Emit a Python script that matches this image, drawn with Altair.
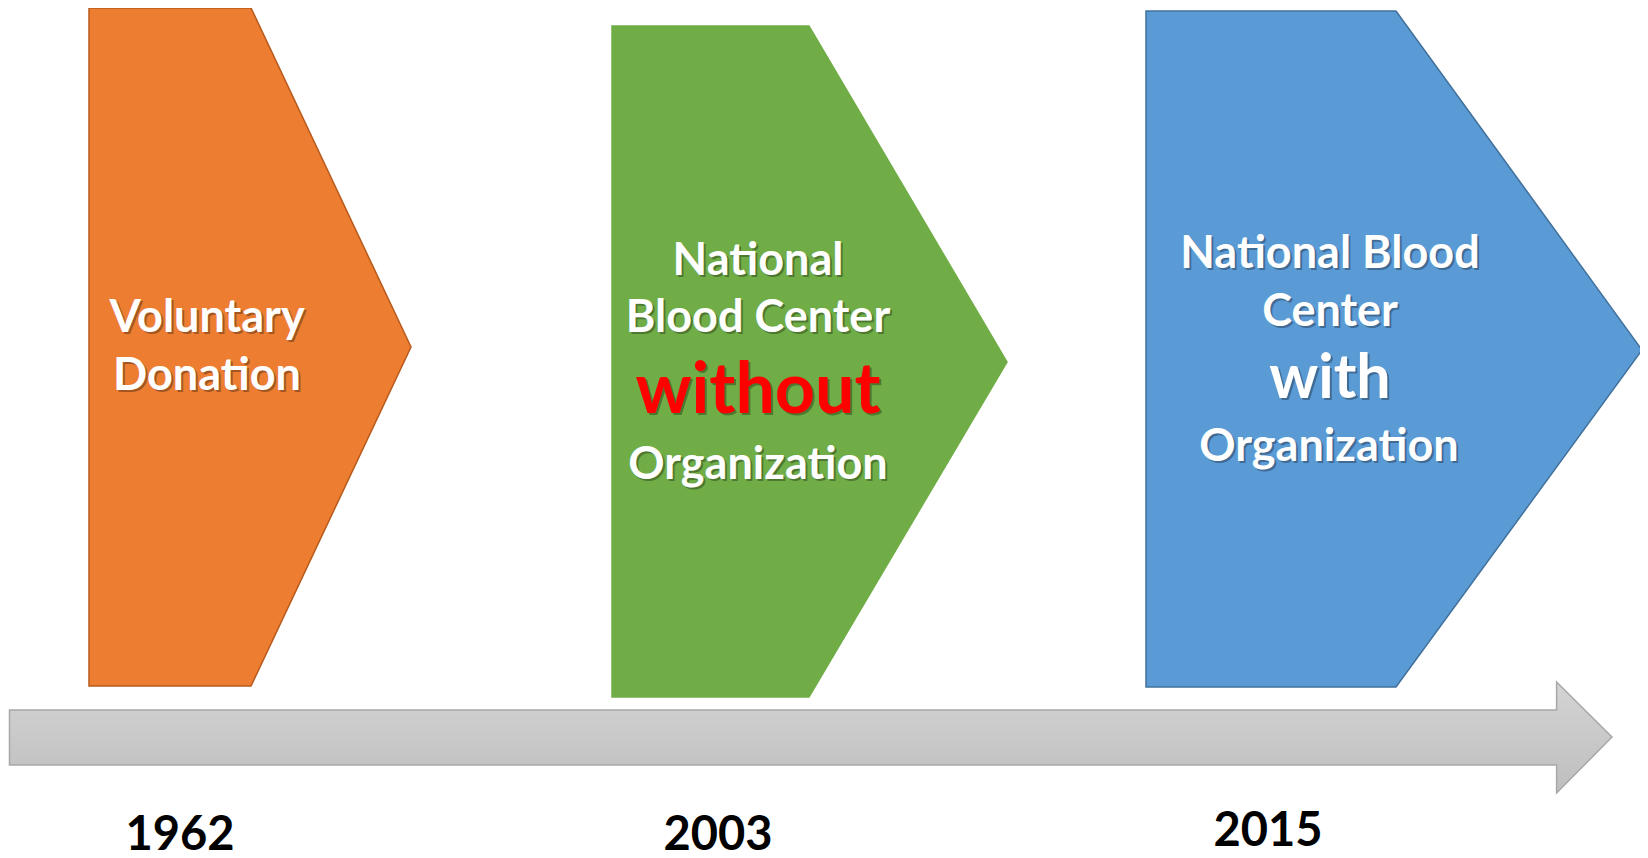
import altair as alt
import pandas as pd

# Diagram coordinate system (page pixels)
X_MIN, X_MAX = 8, 1640
Y_MIN, Y_MAX = 8, 850

# Pentagon-arrow shapes
shape_names = ["Voluntary Donation", "NBC without organization", "NBC with organization"]
shape_fill = ["#ED7D31", "#70AD47", "#5B9BD5"]
shape_stroke = ["#B85A1C", "#70AD47", "#41719C"]
left_x = [89, 612, 1146]
shoulder_x = [251, 809, 1396]
tip_x = [411, 1007, 1642]
top_y = [8, 26, 11]
bottom_y = [686, 697, 687]
tip_y = [347, 362, 350]

# Timeline arrow (outline points, left to right)
arrow_x = [9.5, 1556.6, 1556.6, 1612]
arrow_top = [710, 710, 682, 737]
arrow_bottom = [765, 765, 793, 737]

# Year labels
years = ["1962", "2003", "2015"]
year_x = [180, 718, 1268]
year_y = [850, 850, 846]

# Shape labels
label_text = ["Voluntary", "Donation",
              "National", "Blood Center", "without", "Organization",
              "National Blood", "Center", "with", "Organization"]
label_x = [207, 207, 758, 758, 758, 758, 1330, 1330, 1330, 1329]
label_y = [318, 376, 261, 318, 392, 465, 254, 312, 380, 447]
label_size = [45, 45, 45, 45, 70, 45, 45, 45, 61, 45]
label_color = ["#FFFFFF", "#FFFFFF", "#FFFFFF", "#FFFFFF", "#FF0000", "#FFFFFF",
               "#FFFFFF", "#FFFFFF", "#FFFFFF", "#FFFFFF"]

W = X_MAX - X_MIN
H = Y_MAX - Y_MIN

xs = alt.Scale(domain=[X_MIN, X_MAX], nice=False, zero=False)
ys = alt.Scale(domain=[Y_MIN, Y_MAX], nice=False, zero=False, reverse=True)

layers = []

# timeline arrow
arrow_df = pd.DataFrame({"x": arrow_x, "top": arrow_top, "bottom": arrow_bottom})
grad = alt.Gradient(gradient="linear",
                    stops=[alt.GradientStop(color="#D4D4D4", offset=0),
                           alt.GradientStop(color="#BEBEBE", offset=1)],
                    x1=0, x2=0, y1=0, y2=1)
layers.append(
    alt.Chart(arrow_df).mark_area(color=grad, stroke="#A8A8A8", strokeWidth=1.5,
                                  clip=False)
    .encode(x=alt.X("x:Q", scale=xs, axis=None),
            y=alt.Y("top:Q", scale=ys, axis=None, stack=None),
            y2="bottom:Q")
)

for i in range(len(shape_names)):
    df = pd.DataFrame({
        "x": [left_x[i], shoulder_x[i], tip_x[i]],
        "top": [top_y[i], top_y[i], tip_y[i]],
        "bottom": [bottom_y[i], bottom_y[i], tip_y[i]],
    })
    layers.append(
        alt.Chart(df).mark_area(fill=shape_fill[i], stroke=shape_stroke[i],
                                strokeWidth=1.5, opacity=1, clip=False)
        .encode(x=alt.X("x:Q", scale=xs, axis=None),
                y=alt.Y("top:Q", scale=ys, axis=None, stack=None),
                y2="bottom:Q")
    )

lab_df = pd.DataFrame({"text": label_text, "x": label_x, "y": label_y,
                       "size": label_size, "color": label_color})

shadow = alt.Chart(lab_df).mark_text(font="Lato", fontWeight="bold", align="center",
                                     baseline="middle", dx=2, dy=2, color="#000000",
                                     opacity=0.3).encode(
    x=alt.X("x:Q", scale=xs, axis=None),
    y=alt.Y("y:Q", scale=ys, axis=None),
    text="text:N",
    size=alt.Size("size:Q", scale=None, legend=None),
)
labels = alt.Chart(lab_df).mark_text(font="Lato", fontWeight="bold", align="center",
                                     baseline="middle").encode(
    x=alt.X("x:Q", scale=xs, axis=None),
    y=alt.Y("y:Q", scale=ys, axis=None),
    text="text:N",
    size=alt.Size("size:Q", scale=None, legend=None),
    color=alt.Color("color:N", scale=None, legend=None),
)

year_df = pd.DataFrame({"text": years, "x": year_x, "y": year_y})
year_text = alt.Chart(year_df).mark_text(font="Lato", fontWeight="bold", align="center",
                                         baseline="alphabetic", fontSize=47,
                                         color="#000000").encode(
    x=alt.X("x:Q", scale=xs, axis=None),
    y=alt.Y("y:Q", scale=ys, axis=None),
    text="text:N",
)

chart = alt.layer(*layers, shadow, labels, year_text).properties(
    width=W, height=H, padding=0,
    autosize=alt.AutoSizeParams(type="none"),
).configure_view(stroke=None)

chart.save("out.html", embed_options={"renderer": "svg", "actions": False})
